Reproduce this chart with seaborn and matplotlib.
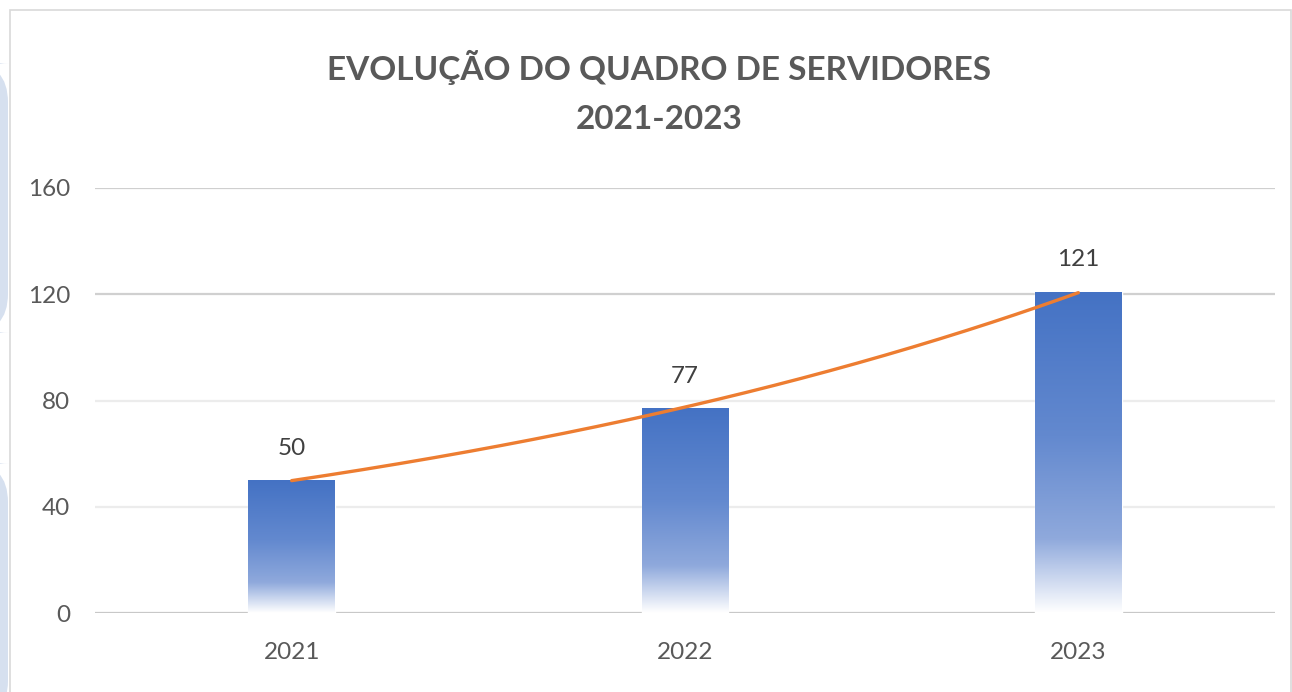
import matplotlib
matplotlib.use("Agg")
import matplotlib.pyplot as plt
import seaborn as sns
import pandas as pd
import numpy as np
from matplotlib.colors import LinearSegmentedColormap
from matplotlib.patches import FancyBboxPatch, Rectangle

sns.set_theme(style="white")
plt.rcParams['font.family'] = ['Lato', 'DejaVu Sans']

anos = ['2021', '2022', '2023']
servidores = [50, 77, 121]
yticks = [0, 40, 80, 120, 160]
titulo = 'EVOLUÇÃO DO QUADRO DE SERVIDORES\n2021-2023'

df = pd.DataFrame({'Ano': anos, 'Servidores': servidores})

fig = plt.figure(figsize=(12.92, 6.92), dpi=100)

# moldura e faixas decorativas da esquerda
fig.patches.append(Rectangle((10 / 1292, -0.01), 1281 / 1292, 1 - 10 / 692 + 0.01,
                             transform=fig.transFigure, fill=False,
                             edgecolor='#d9d9d9', linewidth=1.2))
for y0, y1 in [(63, 333), (463, 720)]:
    fig.patches.append(FancyBboxPatch((-30 / 1292, 1 - y1 / 692), 38 / 1292, (y1 - y0) / 692,
                                      boxstyle='round,pad=0,rounding_size=0.03',
                                      transform=fig.transFigure, facecolor='#d6e0ef',
                                      edgecolor='none', mutation_aspect=1.9))

ax = fig.add_axes([95 / 1292, (692 - 613) / 692, 1180 / 1292, 425 / 692])
sns.barplot(data=df, x='Ano', y='Servidores', ax=ax, width=0.22, color='#4472C4')

ax.set_ylim(0, 160)
ax.set_xlim(-0.5, 2.5)
ax.set_yticks(yticks)
ax.set_xlabel('')
ax.set_ylabel('')
for s in ax.spines.values():
    s.set_visible(False)

ax.yaxis.grid(True, linewidth=1.6)
ax.set_axisbelow(True)
grid_cols = ['#c8c8c8', '#ececec', '#ececec', '#d0d0d0', '#cfcfcf']
for gl, c in zip(ax.yaxis.get_gridlines(), grid_cols):
    gl.set_color(c)

ax.tick_params(axis='both', length=0, labelsize=17.5, colors='#595959')
ax.tick_params(axis='y', pad=18)
ax.tick_params(axis='x', pad=21)

# preenchimento em degradê das barras
cmap = LinearSegmentedColormap.from_list(
    'grad', [(0, '#4472C4'), (0.45, '#6389cf'), (0.77, '#8fa9dc'), (1.0, '#ffffff')])
grad = np.linspace(0, 1, 256).reshape(-1, 1)
for p in ax.patches:
    x0, w, h = p.get_x(), p.get_width(), p.get_height()
    im = ax.imshow(grad, cmap=cmap, extent=(x0, x0 + w, 0, h), origin='upper',
                   aspect='auto', zorder=2)
    im.set_clip_path(p)
    p.set_facecolor('none')
    ax.text(x0 + w / 2, h + 12, f'{int(h)}', ha='center', va='center',
            fontsize=17.5, color='#404040')

# linha de tendência exponencial
xs = np.arange(len(servidores))
b, a = np.polyfit(xs, np.log(servidores), 1)
xt = np.linspace(0, len(servidores) - 1, 200)
ax.plot(xt, np.exp(a + b * xt), color='#ED7D31', linewidth=2.4, zorder=3)

ax.set_xlim(-0.5, 2.5)
ax.set_ylim(0, 160)

fig.text(659 / 1292, 1 - 92 / 692, titulo, ha='center', va='center', fontsize=24,
         fontweight='bold', color='#595959', linespacing=1.85)

fig.savefig('out.png', dpi=100)
